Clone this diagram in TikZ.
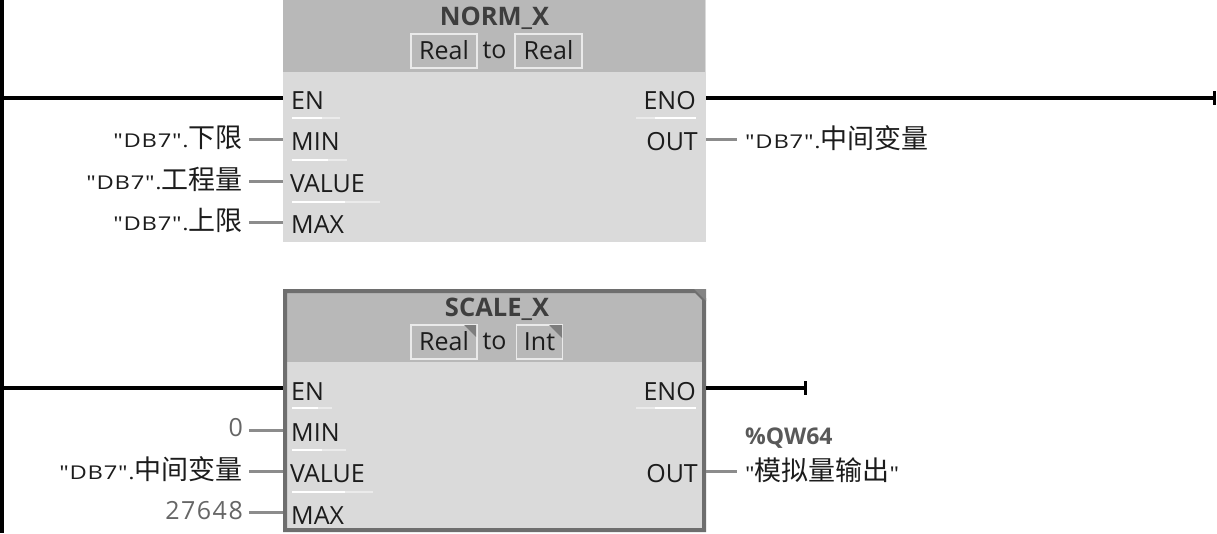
\documentclass[tikz,border=0pt]{standalone}
\usepackage{fontspec}
\setmainfont{Open Sans}
\newfontfamily\cjk{Noto Sans CJK SC}
\newfontfamily\dbf[FakeStretch=1.25,LetterSpace=4]{Open Sans}
\newfontfamily\numf[LetterSpace=6]{Open Sans}
\definecolor{hdr}{HTML}{B8B8B8}
\definecolor{bodyc}{HTML}{DADADA}
\definecolor{frm}{HTML}{6E6E6E}
\definecolor{wire}{HTML}{8C8C8C}
\definecolor{txt}{HTML}{1C1C1C}
\newcommand{\dbl}{{\dbf\fontsize{19}{19}\selectfont "DB7".}}
\newcommand{\zh}[1]{{\cjk\fontsize{27}{27}\selectfont #1}}
\newcommand{\qm}{{\dbf\fontsize{19}{19}\selectfont "}}
\newcommand{\up}[1]{\raisebox{1.2pt}{#1}}
\tikzset{x=1pt,y=-1pt,
 pin/.style={font=\fontsize{25}{25}\selectfont,text=txt,inner sep=0pt},
 pinl/.style={pin,anchor=west},
 pinr/.style={pin,anchor=east},
 ttl/.style={font=\fontsize{25.5}{25}\selectfont\bfseries,text=txt!85!white,inner sep=0pt},
 typebox/.style={font=\fontsize{25}{25}\selectfont,text=txt,draw=white!70!hdr,line width=1.2pt,inner sep=0pt,minimum height=34pt,anchor=center},
 lbl/.style={font=\fontsize{25}{25}\selectfont,text=txt,inner sep=0pt,anchor=east},
 lblr/.style={font=\fontsize{25}{25}\selectfont,text=txt,inner sep=0pt,anchor=west},
 pow/.style={line width=4pt,black},
 sig/.style={line width=3pt,wire},
 sep/.style={line width=1.6pt,white},
 sepf/.style={line width=1.4pt,white!45!bodyc},
}
\begin{document}
\begin{tikzpicture}
\useasboundingbox (0,0) rectangle (1217,533);
\fill[white] (0,0) rectangle (1217,533);
% rail
\coordinate (railtop) at (2,0);
\coordinate (railbot) at (2,533);
\draw[line width=4.5pt,black] (railtop) -- (railbot);
% NORM_X block
\node[rectangle,fill=bodyc,minimum width=423pt,minimum height=242pt,inner sep=0pt,anchor=north west] (b1) at (283,0) {};
\fill[hdr] (283,0) rectangle (705,72);
\node[ttl] (t1) at (494.5,18) {NORM\_X};
\node[typebox,minimum width=66pt] (t1a) at (444,51) {\up{Real}};
\node[pin] (t1b) at (494.5,50) {to};
\node[typebox,minimum width=67pt] (t1c) at (548.5,51) {\up{Real}};
\foreach \xa/\xm/\xb/\ya in {292/322/340/118,292/328/347/160,292/345/380/202}{\draw[sepf] (\xa,\ya) -- (\xb,\ya);\draw[sep] (\xa,\ya) -- (\xm,\ya);}
\draw[sepf] (636,118) -- (696,118); \draw[sep] (655,118) -- (696,118);
\node[pinl] (p1) at (291,100.5) {EN};
\node[pinl] (p2) at (291,142) {MIN};
\node[pinl] (p3) at (290,184) {VALUE};
\node[pinl] (p4) at (291,225) {MAX};
\node[pinr] (p5) at (696,100.5) {ENO};
\node[pinr] (p6) at (698,142) {OUT};
\coordinate (e1) at (283,98);
\coordinate (e2) at (283,139);
\coordinate (e3) at (283,181);
\coordinate (e4) at (283,222);
\coordinate (e5) at (706,98);
\coordinate (e6) at (706,139);
\coordinate (rail1) at (4,98);
\coordinate (end1) at (1214,98);
\draw[pow] (rail1) -- (e1);
\draw[pow] (e5) -- (end1);
\draw[line width=3.5pt,black] (1214.5,91) -- (1214.5,105);
\node[lbl] (l1) at (243,138) {\dbl\zh{下限}};
\node[lbl] (l2) at (243,179) {\dbl\zh{工程量}};
\node[lbl] (l3) at (243,220) {\dbl\zh{上限}};
\node[lblr] (l4) at (745,138) {\dbl\zh{中间变量}};
\coordinate (s1) at (249,139);
\coordinate (s2) at (249,181);
\coordinate (s3) at (249,222);
\coordinate (s4) at (737,139);
\draw[sig] (s1) -- (e2);
\draw[sig] (s2) -- (e3);
\draw[sig] (s3) -- (e4);
\draw[sig] (e6) -- (s4);
% SCALE_X block
\node[rectangle,fill=bodyc,minimum width=419pt,minimum height=237pt,inner sep=0pt,anchor=north west] (b2) at (285,292) {};
\fill[hdr] (285,292) rectangle (704,362);
\node[ttl] (t2) at (497,309) {SCALE\_X};
\node[typebox,minimum width=66pt] (t2a) at (444,342) {\up{Real}};
\node[pin] (t2b) at (494.5,341) {to};
\node[typebox,minimum width=46pt] (t2c) at (539.5,342) {\up{Int}};
\fill[frm!80!hdr] (464,325) -- (476,325) -- (476,337) -- cycle;
\fill[frm!80!hdr] (549,325) -- (562,325) -- (562,338) -- cycle;
\draw[line width=4pt,frm] (285,291) -- (696,291) -- (704,299) -- (704,530) -- (285,530) -- cycle;
\fill[frm!70!hdr] (694,289) -- (706,289) -- (706,301) -- cycle;
\foreach \xa/\xm/\xb/\ya in {292/318/332/408,292/322/346/450,292/345/373/492}{\draw[sepf] (\xa,\ya) -- (\xb,\ya);\draw[sep] (\xa,\ya) -- (\xm,\ya);}
\draw[sepf] (636,408) -- (696,408); \draw[sep] (655,408) -- (696,408);
\node[pinl] (q1) at (291,391.5) {EN};
\node[pinl] (q2) at (291,433) {MIN};
\node[pinl] (q3) at (290,474) {VALUE};
\node[pinl] (q4) at (291,516) {MAX};
\node[pinr] (q5) at (696,391.5) {ENO};
\node[pinr] (q6) at (698,474) {OUT};
\coordinate (f1) at (283,388);
\coordinate (f2) at (283,430);
\coordinate (f3) at (283,471);
\coordinate (f4) at (283,512);
\coordinate (f5) at (706,388);
\coordinate (f6) at (706,471);
\coordinate (rail2) at (4,388);
\coordinate (end2) at (805,388);
\draw[pow] (rail2) -- (f1);
\draw[pow] (f5) -- (end2);
\draw[line width=3.5pt,black] (805.5,381) -- (805.5,395);
\node[lbl,text=black!60] (m1) at (243,428) {{\numf 0}};
\node[lbl] (m2) at (243,469) {\dbl\zh{中间变量}};
\node[lbl,text=black!60] (m3) at (243,511) {{\numf 27648}};
\node[lblr,font=\fontsize{23}{23}\selectfont\bfseries,text=black!65] (m4) at (745,438) {\%QW64};
\node[lblr] (m5) at (745,470) {\qm\zh{模拟量输出}\qm};
\coordinate (u1) at (249,430);
\coordinate (u2) at (249,471);
\coordinate (u3) at (249,512);
\coordinate (u4) at (737,471);
\draw[sig] (u1) -- (f2);
\draw[sig] (u2) -- (f3);
\draw[sig] (u3) -- (f4);
\draw[sig] (f6) -- (u4);
\end{tikzpicture}
\end{document}
